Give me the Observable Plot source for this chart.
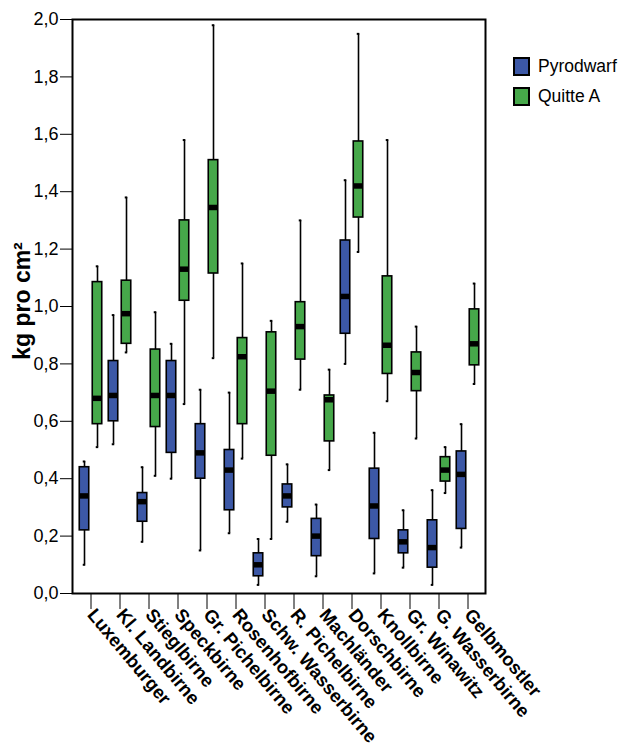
<!DOCTYPE html>
<html>
<head>
<meta charset="utf-8">
<script src="https://cdn.jsdelivr.net/npm/d3@7"></script>
<script src="https://cdn.jsdelivr.net/npm/@observablehq/plot@0.6"></script>
<style>
  body { margin: 0; background: white; }
  #wrap { position: relative; width: 619px; height: 753px; font-family: "Liberation Sans", Arial, sans-serif; }
  #legend { position: absolute; left: 513px; top: 57px; font-size: 17.5px; color: black; }
  .item { display: flex; align-items: center; height: 18px; margin-bottom: 12px; }
  .sw { width: 13px; height: 15px; border: 2px solid black; margin-right: 8px; }
  #ylabel { position: absolute; left: 22px; top: 301px; transform: translate(-50%, -50%) rotate(-90deg);
    font-size: 23px; font-weight: bold; color: black; white-space: nowrap; }
</style>
</head>
<body>
<div id="wrap"><div id="ylabel">kg pro cm²</div><div id="legend"></div></div>
<script>
const categories = ["Luxemburger", "Kl. Landbirne", "Stieglbirne", "Speckbirne", "Gr. Pichelbirne",
  "Rosenhofbirne", "Schw. Wasserbirne", "R. Pichelbirne", "Machländer", "Dorschbirne",
  "Knollbirne", "Gr. Winawitz", "G. Wasserbirne", "Gelbmostler"];
const series = ["Pyrodwarf", "Quitte A"];
const colors = ["#3c58a6", "#46a84a"];
const yTicks = [0, 0.2, 0.4, 0.6, 0.8, 1.0, 1.2, 1.4, 1.6, 1.8, 2.0];

// Pyrodwarf
const pyroMin = [0.10, 0.52, 0.18, 0.40, 0.15, 0.21, 0.03, 0.25, 0.06, 0.80, 0.07, 0.09, 0.03, 0.16];
const pyroQ1  = [0.22, 0.60, 0.25, 0.49, 0.40, 0.29, 0.06, 0.30, 0.13, 0.905, 0.19, 0.14, 0.09, 0.225];
const pyroMed = [0.34, 0.69, 0.32, 0.69, 0.49, 0.43, 0.10, 0.34, 0.20, 1.035, 0.305, 0.18, 0.16, 0.415];
const pyroQ3  = [0.44, 0.81, 0.35, 0.81, 0.59, 0.50, 0.14, 0.38, 0.26, 1.23, 0.435, 0.22, 0.255, 0.495];
const pyroMax = [0.46, 0.97, 0.44, 0.87, 0.71, 0.70, 0.19, 0.45, 0.31, 1.44, 0.56, 0.29, 0.36, 0.59];
// Quitte A
const quitMin = [0.51, 0.84, 0.41, 0.66, 0.82, 0.47, 0.19, 0.71, 0.43, 1.19, 0.67, 0.54, 0.35, 0.73];
const quitQ1  = [0.59, 0.87, 0.58, 1.02, 1.115, 0.59, 0.48, 0.815, 0.53, 1.31, 0.765, 0.705, 0.39, 0.795];
const quitMed = [0.68, 0.975, 0.69, 1.13, 1.345, 0.825, 0.705, 0.93, 0.675, 1.42, 0.865, 0.77, 0.43, 0.87];
const quitQ3  = [1.085, 1.09, 0.85, 1.30, 1.51, 0.89, 0.91, 1.015, 0.69, 1.575, 1.105, 0.84, 0.475, 0.99];
const quitMax = [1.14, 1.38, 0.98, 1.58, 1.98, 1.15, 0.95, 1.30, 0.78, 1.95, 1.58, 0.93, 0.51, 1.08];

const stats = {
  "Pyrodwarf": [pyroMin, pyroQ1, pyroMed, pyroQ3, pyroMax],
  "Quitte A": [quitMin, quitQ1, quitMed, quitQ3, quitMax]
};
const rows = series.flatMap(s => categories.map((c, i) => ({
  category: c, series: s,
  min: stats[s][0][i], q1: stats[s][1][i], median: stats[s][2][i], q3: stats[s][3][i], max: stats[s][4][i]
})));

const bandW = (619 - 72 - 134) / categories.length;
const boxW = 10;
const boxInset = (bandW - boxW) / 2;
const capInset = (bandW - 3) / 2;
const offsets = [-6.5, 6.5];

const marks = series.flatMap((s, k) => {
  const d = rows.filter(r => r.series === s);
  const dx = offsets[k];
  return [
    Plot.ruleX(d, {x: "category", y1: "min", y2: "q1", dx, stroke: "black", strokeWidth: 1.6}),
    Plot.ruleX(d, {x: "category", y1: "q3", y2: "max", dx, stroke: "black", strokeWidth: 1.6}),
    Plot.tickY(d, {x: "category", y: "min", dx, insetLeft: capInset, insetRight: capInset, stroke: "black", strokeWidth: 2}),
    Plot.tickY(d, {x: "category", y: "max", dx, insetLeft: capInset, insetRight: capInset, stroke: "black", strokeWidth: 2}),
    Plot.barY(d, {x: "category", y1: "q1", y2: "q3", dx, fill: "series", stroke: "black", strokeWidth: 1.6,
      insetLeft: boxInset, insetRight: boxInset}),
    Plot.tickY(d, {x: "category", y: "median", dx, insetLeft: boxInset, insetRight: boxInset, stroke: "black", strokeWidth: 5.5})
  ];
});

const chart = Plot.plot({
  width: 619, height: 753,
  marginLeft: 72, marginRight: 134, marginTop: 19, marginBottom: 160,
  style: {fontFamily: "'Liberation Sans', Arial, sans-serif", background: "white", color: "black", overflow: "visible"},
  x: {domain: categories, padding: 0, label: null},
  y: {domain: [0, 2], label: null},
  color: {domain: series, range: colors},
  marks: [
    ...marks,
    Plot.frame({stroke: "black", strokeWidth: 2}),
    Plot.axisY({ticks: yTicks, tickSize: 12, tickPadding: 2, fontSize: 18,
      tickFormat: d => d.toFixed(1).replace(".", ","), label: null}),
    Plot.axisX({tickSize: 16, tickPadding: 2, tickRotate: 50, fontSize: 18.5, fontWeight: "bold", label: null})
  ]
});
document.getElementById("wrap").prepend(chart);

const legend = document.getElementById("legend");
series.forEach((s, k) => {
  const it = document.createElement("div");
  it.className = "item";
  const sw = document.createElement("div");
  sw.className = "sw";
  sw.style.background = colors[k];
  const t = document.createElement("span");
  t.textContent = s;
  it.append(sw, t);
  legend.append(it);
});
</script>
</body>
</html>
